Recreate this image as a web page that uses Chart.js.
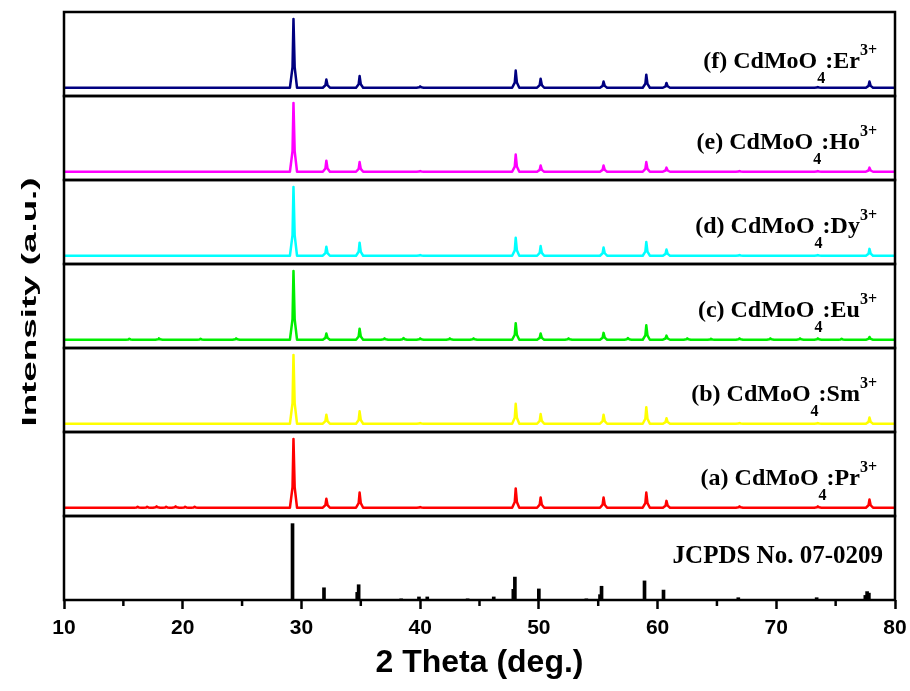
<!DOCTYPE html>
<html>
<head>
<meta charset="utf-8">
<script src="https://cdn.jsdelivr.net/npm/chart.js@4.4.1/dist/chart.umd.min.js"></script>
<style>
  html, body { margin: 0; padding: 0; background: #fff; }
</style>
</head>
<body>
<canvas id="xrdChart" width="910" height="691"></canvas>
<script>
// 2 theta range
const thetaMin = 10;
const thetaMax = 80;
const majorTicks = [10, 20, 30, 40, 50, 60, 70, 80];
const minorTicks = [15, 25, 35, 45, 55, 65, 75];

// main reflections of the measured patterns (deg)
const peakPos = [29.33, 32.1, 34.9, 40.0, 48.05, 50.15, 55.45, 59.05, 60.75, 66.9, 73.5, 77.85];

// relative peak heights per sample, same order as peakPos
const prInt = [100, 13, 22, 1, 28, 15, 15, 22, 10, 2, 2, 12];
const smInt = [100, 13, 18, 1, 29, 14, 13, 24, 8, 1, 1, 9];
const euInt = [100, 9, 16, 2, 24, 9, 10, 21, 6, 2, 2, 4];
const dyInt = [100, 13, 19, 1, 26, 14, 12, 20, 9, 1, 1, 10];
const hoInt = [100, 16, 14, 1, 25, 9, 9, 14, 6, 1, 1, 6];
const erInt = [100, 12, 17, 2, 25, 13, 9, 19, 7, 0, 1, 9];

// small background bumps seen on the noisier scans
const prNoisePos = [16.2, 17.0, 17.8, 18.6, 19.4, 20.2, 21.0];
const prNoiseInt = [1.5, 1.5, 2, 1.5, 2, 1.5, 1.5];
const euNoisePos = [15.5, 18.0, 21.5, 24.5, 37.0, 38.6, 42.5, 44.5, 52.5, 57.5, 62.5, 64.5, 69.5, 72.0, 75.5];
const euNoiseInt = [1.5, 2, 1.5, 2, 2, 2.5, 2, 2, 2, 2.5, 2, 1.5, 2, 2, 1.5];

// JCPDS No. 07-0209 reference lines
const refPos = [29.25, 31.9, 34.7, 34.82, 38.4, 39.9, 40.6, 44.0, 46.2, 47.85, 47.98, 50.0, 54.0, 55.15, 55.28, 58.9, 60.5, 66.8, 73.4, 77.5, 77.65, 77.8];
const refInt = [100, 16, 10, 20, 1.5, 4, 4, 1.5, 4, 14, 30, 14.5, 1.5, 7, 18, 25, 13, 3, 3, 6, 11, 9];

// sample names, bottom to top
const sampleTags = ['(a)', '(b)', '(c)', '(d)', '(e)', '(f)'];
const dopants = ['Pr', 'Sm', 'Eu', 'Dy', 'Ho', 'Er'];
const sampleColors = ['#ff0000', '#ffff00', '#00ee00', '#00ffff', '#ff00ff', '#000080'];
const refLabel = 'JCPDS No. 07-0209';

// outline used for each diffraction peak: [offset in deg, fraction of height]
const peakShape = [[-0.3, 0], [-0.08, 0.3], [0, 1], [0.1, 0.3], [0.3, 0]];

function buildPattern(pos, hts, extraPos, extraInt) {
    const pts = [{ x: thetaMin, y: 0 }, { x: thetaMax, y: 0 }];
    const add = (p, h) => {
        if (!h) return;
        peakShape.forEach(([dx, f]) => pts.push({ x: p + dx, y: h * f }));
    };
    pos.forEach((p, i) => add(p, hts[i]));
    if (extraPos) extraPos.forEach((p, i) => add(p, extraInt[i]));
    return pts.sort((a, b) => a.x - b.x);
}

const sampleData = [
    buildPattern(peakPos, prInt, prNoisePos, prNoiseInt),
    buildPattern(peakPos, smInt),
    buildPattern(peakPos, euInt, euNoisePos, euNoiseInt),
    buildPattern(peakPos, dyInt),
    buildPattern(peakPos, hoInt),
    buildPattern(peakPos, erInt)
];

const panelIds = ['yRef', 'yPr', 'ySm', 'yEu', 'yDy', 'yHo', 'yEr'];

// Build one hidden y axis per panel, all in one stack
const scales = {
    x: {
        type: 'linear',
        min: thetaMin,
        max: thetaMax,
        offset: false,
        afterBuildTicks: s => { s.ticks = majorTicks.map(v => ({ value: v })); },
        afterFit: s => { s.height = 91; s.paddingLeft = 0; s.paddingRight = 0; },
        border: { display: false },
        grid: { offset: false, drawOnChartArea: false, tickLength: 9, tickWidth: 2.5, color: '#000' },
        ticks: {
            color: '#000',
            padding: 7,
            maxRotation: 0,
            font: { family: '"Liberation Sans", Arial, sans-serif', size: 21, weight: 'bold' }
        },
        title: {
            display: true,
            text: '2 Theta (deg.)',
            color: '#000',
            padding: { top: 0, bottom: 9 },
            font: { family: '"Liberation Sans", Arial, sans-serif', size: 32, weight: 'bold' }
        }
    }
};
panelIds.forEach((id, i) => {
    scales[id] = {
        type: 'linear',
        position: 'left',
        stack: 'xrd',
        stackWeight: 1,
        min: i === 0 ? 0 : -12,
        max: 110,
        afterFit: s => { s.width = 0; },
        border: { display: false },
        grid: { display: false },
        ticks: { display: false }
    };
});

const datasets = sampleData.map((d, i) => ({
    label: sampleTags[i] + ' CdMoO4:' + dopants[i] + '3+',
    data: d,
    yAxisID: panelIds[i + 1],
    borderColor: sampleColors[i],
    borderWidth: 2.5,
    borderJoinStyle: 'round',
    pointRadius: 0,
    tension: 0
}));
datasets.unshift({
    type: 'bar',
    label: refLabel,
    data: refPos.map((p, i) => ({ x: p, y: refInt[i] })),
    yAxisID: 'yRef',
    backgroundColor: '#000',
    barThickness: 3
});

const serif = '"Liberation Serif", "Times New Roman", serif';

// Frames, minor ticks, panel labels and y title
const framePlugin = {
    id: 'frame',
    afterDraw(chart) {
        const ctx = chart.ctx;
        const xs = chart.scales.x;
        ctx.save();
        ctx.strokeStyle = '#000';
        ctx.lineWidth = 2.5;
        panelIds.forEach(id => {
            const s = chart.scales[id];
            ctx.strokeRect(xs.left, s.top, xs.right - xs.left, s.bottom - s.top);
        });
        minorTicks.forEach(v => {
            const px = xs.getPixelForValue(v);
            ctx.beginPath();
            ctx.moveTo(px, xs.top);
            ctx.lineTo(px, xs.top + 6);
            ctx.stroke();
        });

        // sample labels
        ctx.fillStyle = '#000';
        ctx.textAlign = 'left';
        ctx.textBaseline = 'alphabetic';
        const bigFont = 'bold 24px ' + serif;
        const smallFont = 'bold 16px ' + serif;
        sampleTags.forEach((tag, i) => {
            const s = chart.scales[panelIds[i + 1]];
            const base = s.top + (i === 5 ? 56 : 53);
            const parts = [
                [tag + ' CdMoO', bigFont, 0],
                ['4', smallFont, 15],
                [':' + dopants[i], bigFont, 0],
                ['3+', smallFont, -13]
            ];
            let total = 0;
            parts.forEach(p => { ctx.font = p[1]; total += ctx.measureText(p[0]).width; });
            let x = xs.right - 18 - total;
            parts.forEach(p => {
                ctx.font = p[1];
                ctx.fillText(p[0], x, base + p[2]);
                x += ctx.measureText(p[0]).width;
            });
        });
        const rs = chart.scales.yRef;
        ctx.font = 'bold 25px ' + serif;
        ctx.textAlign = 'right';
        ctx.fillText(refLabel, xs.right - 12, rs.top + 47);

        // y axis title
        ctx.translate(30, 302);
        ctx.rotate(-Math.PI / 2);
        ctx.scale(1.75, 1);
        ctx.textAlign = 'center';
        ctx.textBaseline = 'middle';
        ctx.font = 'bold 21px "Liberation Sans", Arial, sans-serif';
        ctx.fillText('Intensity (a.u.)', 0, 0);
        ctx.restore();
    }
};

new Chart(document.getElementById('xrdChart'), {
    type: 'line',
    data: { datasets: datasets },
    options: {
        responsive: false,
        animation: false,
        devicePixelRatio: 1,
        layout: { padding: { left: 64, right: 15, top: 12, bottom: 0 } },
        plugins: { legend: { display: false }, tooltip: { enabled: false } },
        scales: scales
    },
    plugins: [framePlugin]
});
</script>
</body>
</html>
